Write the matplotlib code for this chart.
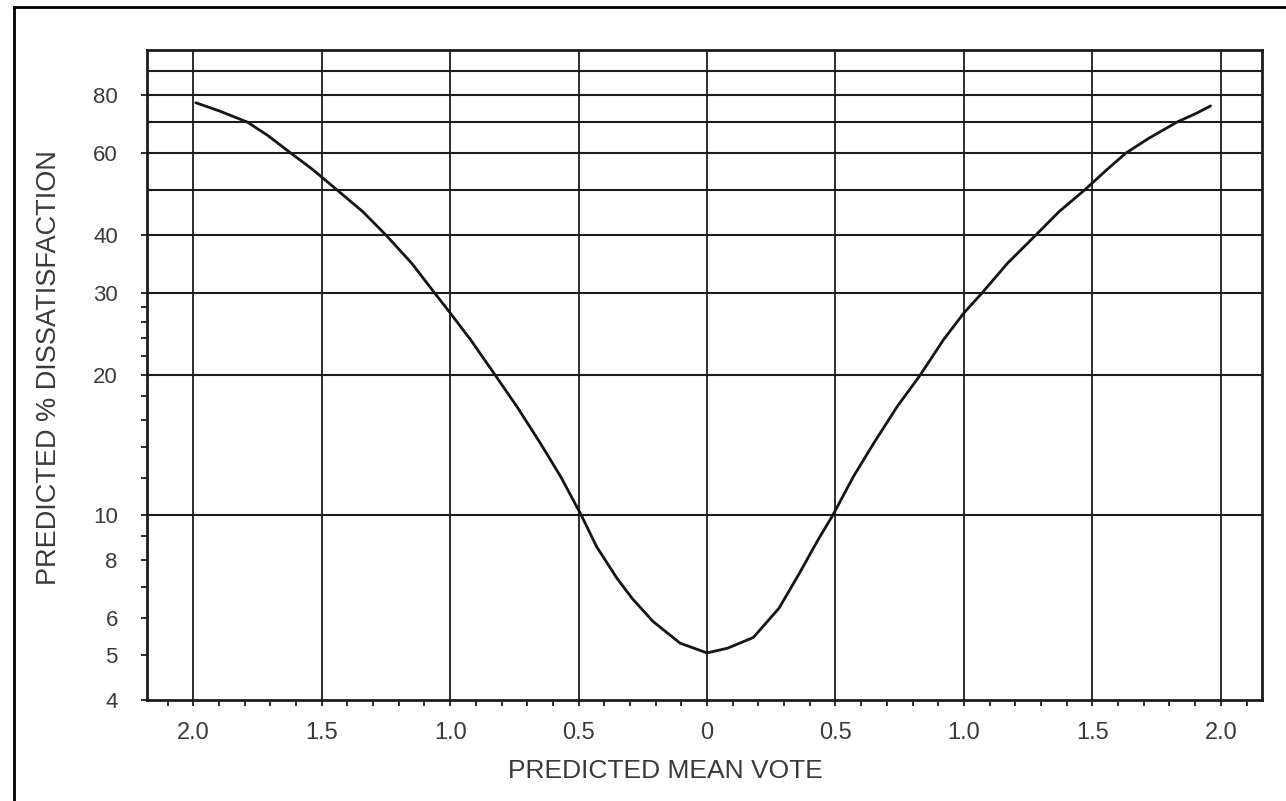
import numpy as np
from matplotlib import pyplot as plt
from matplotlib.lines import Line2D
from matplotlib.ticker import FixedLocator, NullFormatter

# PMV / PPD curve read along its length
pmv = [-1.99, -1.90, -1.79, -1.71, -1.62, -1.54, -1.50, -1.44, -1.34, -1.25,
       -1.15, -1.06, -1.00, -0.92, -0.825, -0.74, -0.65, -0.57, -0.49, -0.43,
       -0.35, -0.29, -0.21, -0.105, 0.0, 0.08, 0.18, 0.28, 0.36, 0.43,
       0.49, 0.57, 0.65, 0.74, 0.83, 0.92, 1.00, 1.07, 1.17, 1.28,
       1.37, 1.47, 1.555, 1.63, 1.72, 1.83, 1.905, 1.96]
ppd = [77.0, 74.0, 70.0, 65.5, 60.0, 55.6, 53.3, 50.0, 44.9, 40.0,
       34.8, 30.0, 27.2, 23.8, 20.0, 17.1, 14.3, 12.1, 10.0, 8.55,
       7.3, 6.6, 5.9, 5.3, 5.05, 5.17, 5.45, 6.3, 7.5, 8.8,
       10.0, 12.1, 14.3, 17.1, 20.0, 23.8, 27.2, 30.0, 34.8, 40.0,
       44.9, 50.0, 55.2, 60.0, 64.6, 70.0, 73.1, 75.8]

x_ticks = [-2.0, -1.5, -1.0, -0.5, 0.0, 0.5, 1.0, 1.5, 2.0]
x_labels = ["2.0", "1.5", "1.0", "0.5", "0", "0.5", "1.0", "1.5", "2.0"]
x_minor = [round(v, 1) for v in np.arange(-2.1, 2.11, 0.1)]

y_ticks = [4, 5, 6, 8, 10, 20, 30, 40, 60, 80]
y_labels = ["4", "5", "6", "8", "10", "20", "30", "40", "60", "80"]
y_minor = [7, 9, 12, 14, 16, 18, 22, 24, 26, 28]
h_lines = [10, 20, 30, 40, 50, 60, 70, 80, 90]

ink = "#1c1c1c"
txt = "#3a3a3a"
plt.rcParams["font.family"] = ["Liberation Sans", "DejaVu Sans"]

fig = plt.figure(figsize=(12.86, 8.01), dpi=100)
ax = fig.add_axes([0.1143, 0.1261, 0.867, 0.8115])

for v in x_ticks:
    ax.axvline(v, color=ink, lw=1.3, zorder=1)
for v in h_lines:
    ax.axhline(v, color=ink, lw=1.5, zorder=1)

ax.plot(pmv, ppd, color="#151515", lw=2.0, zorder=3,
        solid_joinstyle="round", solid_capstyle="round")

ax.set_yscale("log")
ax.set_ylim(4, 100)
ax.set_xlim(-2.18, 2.16)

ax.set_xticks(x_ticks)
ax.set_xticklabels(x_labels)
ax.xaxis.set_minor_locator(FixedLocator(x_minor))
ax.set_yticks(y_ticks)
ax.set_yticklabels(y_labels)
ax.yaxis.set_minor_locator(FixedLocator(y_minor))
ax.yaxis.set_minor_formatter(NullFormatter())

ax.tick_params(axis="x", which="major", direction="out", length=4, width=1.3,
               color=ink, pad=12, labelsize=17, labelcolor=txt)
ax.tick_params(axis="x", which="minor", direction="out", length=4, width=1.3, color=ink)
ax.tick_params(axis="y", which="major", direction="out", length=4, width=1.3,
               color=ink, pad=17, labelsize=16, labelcolor=txt)
ax.tick_params(axis="y", which="minor", direction="out", length=4, width=1.3, color=ink)

for s in ax.spines.values():
    s.set_linewidth(2.0)
    s.set_color(ink)

ax.set_xlabel("PREDICTED MEAN VOTE", fontsize=19, color=txt)
ax.set_ylabel("PREDICTED % DISSATISFACTION", fontsize=19.5, color=txt)
ax.xaxis.set_label_coords(0.4646, -0.091)
ax.yaxis.set_label_coords(-0.0762, 0.512)

# page border on the left and top
W, H = 1286, 801
fig.add_artist(Line2D([14 / W, 14 / W], [0, 1 - 7 / H], transform=fig.transFigure,
                      color="black", lw=2.0))
fig.add_artist(Line2D([14 / W, 1], [1 - 7 / H, 1 - 7 / H], transform=fig.transFigure,
                      color="black", lw=2.0))

plt.savefig("out.png", dpi=100)
